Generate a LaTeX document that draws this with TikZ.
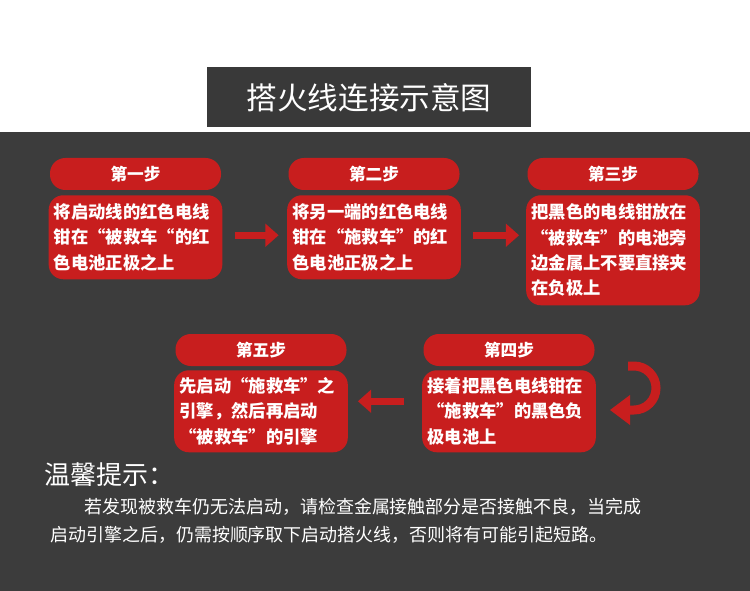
\documentclass[tikz,border=0pt]{standalone}
\usepackage{fontspec}
\setmainfont{Noto Sans CJK SC}
\usetikzlibrary{arrows.meta,positioning}
\definecolor{bgdark}{HTML}{3C3C3C}
\definecolor{stepred}{HTML}{C81E1E}

\begin{document}
\begin{tikzpicture}[x=0.0264cm,y=-0.0264cm,
  head/.style={rectangle, rounded corners=11.5pt, fill=stepred, text=white, font=\fontsize{12.5}{14}\selectfont\bfseries, minimum width=171*0.0264cm, minimum height=32*0.0264cm, inner sep=0pt},
  body/.style={rectangle, rounded corners=11pt, fill=stepred, text=white, font=\fontsize{13}{19}\selectfont\bfseries, text width=163*0.0264cm, minimum width=171*0.0264cm, align=left, inner xsep=4pt, inner ysep=3pt, anchor=north},
  fat/.style={draw=stepred, line width=7*0.0264cm, -{Triangle[length=10pt,width=17pt]}}]
  \useasboundingbox (0,0) rectangle (750,591);
  % Background
  \fill[white] (0,0) rectangle (750,591);
  \fill[bgdark] (0,132) rectangle (750,591);
  \fill[bgdark!95!black] (207,67) rectangle (531,127);
  \node[text=white, font=\fontsize{23}{26}\selectfont] (title) at (369,98) {搭火线连接示意图};

  % Upper row
  \node[head] (h1) at (135.5,174) {第一步};
  \node[body, minimum height=84*0.0264cm] (b1) at (135.5,195) {将启动线的红色电线\\钳在“被救车“的红\\色电池正极之上};
  \node[head] (h2) at (374,174) {第二步};
  \node[body, minimum height=84*0.0264cm] (b2) at (374,195) {将另一端的红色电线\\钳在“施救车”的红\\色电池正极之上};
  \node[head] (h3) at (613,174) {第三步};
  \node[body, minimum height=110*0.0264cm] (b3) at (613,195) {把黑色的电线钳放在\\“被救车”的电池旁\\边金属上不要直接夹\\在负极上};

  % Lower row
  \node[head] (h4) at (509,350) {第四步};
  \node[body, minimum height=82*0.0264cm] (b4) at (509,370) {接着把黑色电线钳在\\“施救车”的黑色负\\极电池上};
  \node[head] (h5) at (261,350) {第五步};
  \node[body, minimum height=82*0.0264cm] (b5) at (261,370) {先启动“施救车”之\\引擎，然后再启动\\“被救车”的引擎};

  % Arrows
  \draw[fat] (b1.east) ++(12,-2) coordinate (a1) -- ++(44,0);
  \draw[fat] (b2.east) ++(12,-2) coordinate (a2) -- ++(46,0);
  \draw[fat] (b4.west) ++(-18,-10) coordinate (a4) -- ++(-46,0);
  \coordinate (u1) at (628,366);
  \draw[draw=stepred, line width=9*0.0264cm] (u1) -- ++(6,0) arc[start angle=-90, end angle=90, radius=22] -- ++(-6,0) coordinate (u2);
  \fill[stepred] (u2) ++(2,-15) -- ++(0,30) -- ++(-20,-15) -- cycle;

  % Tip
  \node[text=white, font=\fontsize{19.5}{22}\selectfont, anchor=west] (tip) at (40,475) {温馨提示：};
  \node[text=white, font=\fontsize{13.5}{21}\selectfont, anchor=north west, align=left, inner sep=0pt] (note) at (50,498)
    {\hspace*{1.9em}若发现被救车仍无法启动，请检查金属接触部分是否接触不良，当完成\\启动引擎之后，仍需按顺序取下启动搭火线，否则将有可能引起短路。};
\end{tikzpicture}
\end{document}
